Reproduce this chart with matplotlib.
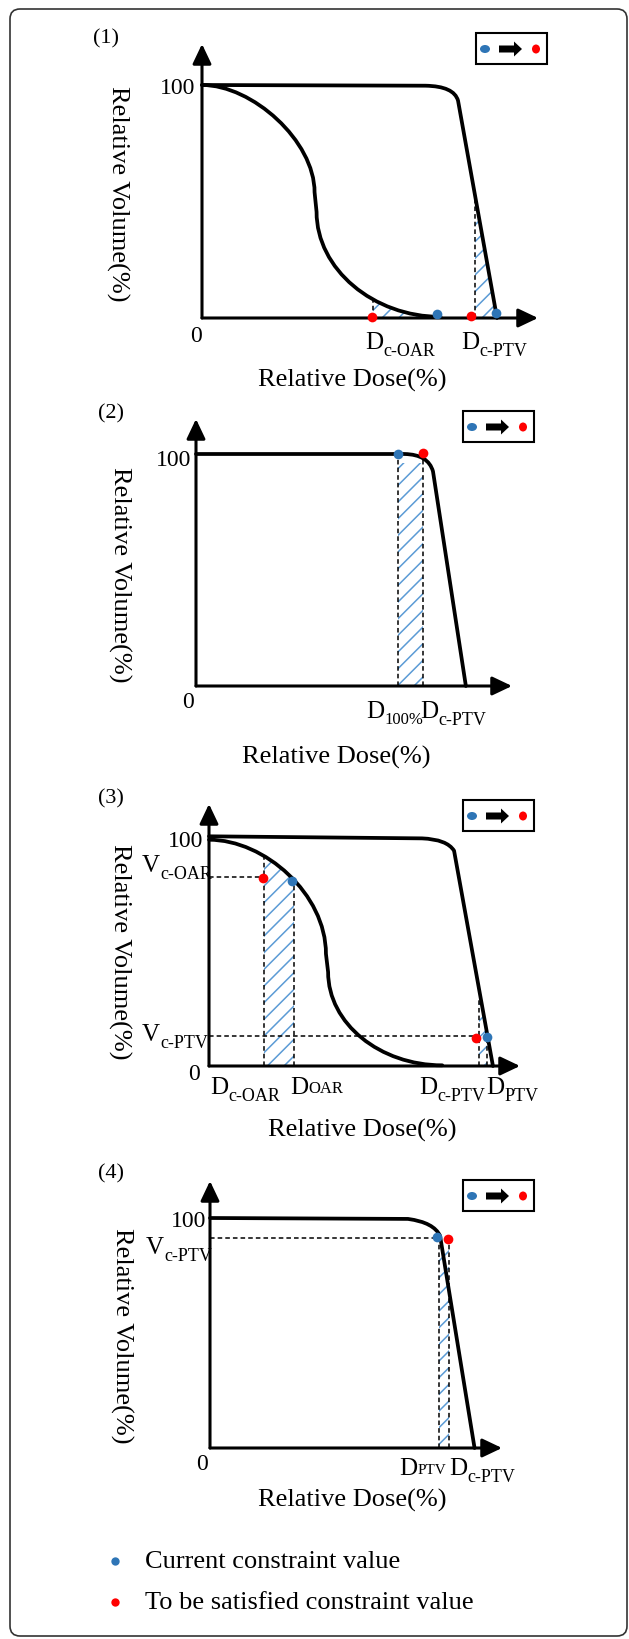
import matplotlib
matplotlib.use("Agg")
import matplotlib.pyplot as plt
from matplotlib.path import Path
from matplotlib.patches import PathPatch, Rectangle, FancyBboxPatch, FancyArrow, Ellipse

plt.rcParams["font.family"] = ["Liberation Serif", "DejaVu Serif"]
plt.rcParams["hatch.linewidth"] = 1.1

W, H = 629, 1640
BLUE = "#2e75b6"
RED = "#ff0000"
HATCH = "#5b9bd5"
M, L, C3, C4 = Path.MOVETO, Path.LINETO, Path.CURVE3, Path.CURVE4

# ---------------- data: (relative dose %, relative volume %) ----------------
# panel (1)
p1_ptv_dose = [0, 66.5, 75.0, 76.2, 87.8]
p1_ptv_vol = [100, 99.7, 99.5, 93.3, 0]
p1_ptv_code = [M, L, C3, C3, L]
p1_oar_dose = [0, 15, 33.5, 33.5, 34.1, 34.1, 51, 71]
p1_oar_vol = [100, 100, 76, 54, 45.5, 21, 0.5, 0.5]
p1_oar_code = [M, C4, C4, C4, L, C4, C4, C4]
p1_cur_dose = [69.9, 87.5]
p1_cur_vol = [1.7, 2.1]
p1_tgt_dose = [50.5, 80.2]
p1_tgt_vol = [0.3, 0.9]
p1_vguide_x = [50.9, 81.2]
p1_vguide_top = [9, 52]

# panel (2)
p2_ptv_dose = [0, 66.0, 73.5, 75.0, 85.4]
p2_ptv_vol = [100, 100, 99.8, 92.5, 0]
p2_ptv_code = [M, L, C3, C3, L]
p2_cur_dose = [64.0]
p2_cur_vol = [100]
p2_tgt_dose = [71.9]
p2_tgt_vol = [100.4]
p2_vguide_x = [64.0, 71.7]
p2_vguide_top = [98, 98]

# panel (3)
p3_ptv_dose = [0, 68.5, 76.5, 78.8, 91.3]
p3_ptv_vol = [100.3, 99.4, 99.0, 94.0, 0]
p3_ptv_code = [M, L, C3, C3, L]
p3_oar_dose = [0, 18, 37.6, 37.6, 38.3, 38.3, 55, 75]
p3_oar_vol = [98.8, 98.8, 75, 49, 41, 18.5, 0.3, 0.3]
p3_oar_code = [M, C4, C4, C4, L, C4, C4, C4]
p3_cur_dose = [26.7, 89.4]
p3_cur_vol = [80.8, 12.7]
p3_tgt_dose = [17.4, 85.9]
p3_tgt_vol = [82.1, 12.2]
p3_hguide_y = [82.5, 13.1]
p3_hguide_end = [17.4, 85.9]
p3_vguide_x = [17.7, 27.3, 86.8, 89.4]
p3_vguide_top = [91.3, 80.8, 29.3, 12.7]

# panel (4)
p4_ptv_dose = [0, 67.8, 76.7, 78.8, 90.6]
p4_ptv_vol = [100, 99.6, 98.1, 92.2, 0]
p4_ptv_code = [M, L, C3, C3, L]
p4_cur_dose = [77.7]
p4_cur_vol = [91.7]
p4_tgt_dose = [81.5]
p4_tgt_vol = [90.9]
p4_hguide_y = [91.3]
p4_hguide_end = [77.7]
p4_vguide_x = [78.4, 81.8]
p4_vguide_top = [90, 90]

legend_labels = ["Current constraint value", "To be satisfied constraint value"]

fig = plt.figure(figsize=(W / 100, H / 100), dpi=100)

# overlay in pixel units for frame, labels and legend keys
ov = fig.add_axes([0, 0, 1, 1])
ov.set_xlim(0, W)
ov.set_ylim(H, 0)
ov.axis("off")
ov.add_patch(FancyBboxPatch((10, 10), 617, 1627, boxstyle="round,pad=0,rounding_size=10",
                            fc="none", ec="#333333", lw=1.2))


def panel_axes(left, right, bottom, top, level):
    ax = fig.add_axes([left / W, 1 - bottom / H, (right - left) / W, (bottom - top) / H])
    ax.set_xlim(0, 100)
    ax.set_ylim(0, 100 * (bottom - top) / (bottom - level))
    ax.axis("off")
    ax.patch.set_alpha(0)
    ymax = ax.get_ylim()[1]
    ap = dict(arrowstyle="-|>,head_length=0.8,head_width=0.38", lw=2.2, color="k",
              shrinkA=0, shrinkB=0, mutation_scale=15)
    ax.annotate("", xy=(100, 0), xytext=(0, 0), arrowprops=ap, annotation_clip=False)
    ax.annotate("", xy=(0, ymax), xytext=(0, 0), arrowprops=ap, annotation_clip=False)
    return ax


def curve(ax, dose, vol, codes, hatch_from=None, hatch_to=None):
    verts = list(zip(dose, vol))
    ax.add_patch(PathPatch(Path(verts, codes), fc="none", ec="k", lw=2.7,
                           capstyle="round", joinstyle="round", zorder=3, clip_on=False))
    if hatch_from is not None:
        area = Path(verts + [(dose[-1], 0), (0, 0), (0, 0)], codes + [L, L, Path.CLOSEPOLY])
        hp = PathPatch(area, fc="none", ec=HATCH, lw=0, hatch="//", zorder=1)
        ax.add_patch(hp)
        hp.set_clip_path(Rectangle((hatch_from, 0), hatch_to - hatch_from, 200,
                                   transform=ax.transData))


def hatch_rect(ax, x0, x1, top):
    ax.add_patch(Rectangle((x0, 0), x1 - x0, top, fc="none", ec=HATCH, lw=0,
                           hatch="//", zorder=1))


def guides(ax, vx, vtop, hy=(), hend=()):
    for x, t in zip(vx, vtop):
        ax.plot([x, x], [0, t], color="k", lw=1.1, ls=(0, (3, 2)), zorder=2)
    for y, e in zip(hy, hend):
        ax.plot([0, e], [y, y], color="k", lw=1.1, ls=(0, (3, 2)), zorder=2)


def dots(ax, cd, cv, td, tv):
    ax.plot(cd, cv, "o", color=BLUE, ms=7, mew=0, zorder=5, clip_on=False)
    ax.plot(td, tv, "o", color=RED, ms=7, mew=0, zorder=5, clip_on=False)


def sub_label(x, y, main, sub, low=True, fs=18, sfs=13):
    t = ov.text(x, y, main, fontsize=fs, ha="left", va="center")
    if low:
        ov.annotate(sub, xy=(1, 0), xycoords=t, xytext=(0, 2), textcoords="offset points",
                    fontsize=sfs, ha="left", va="center")
    else:
        ov.annotate(sub, xy=(1, 0), xycoords=t, xytext=(0, 4), textcoords="offset points",
                    fontsize=sfs, ha="left", va="baseline")


def key_box(x, y):
    ov.add_patch(Rectangle((x, y), 71, 31, fc="none", ec="k", lw=1.5))
    ov.add_patch(Ellipse((x + 9, y + 16), 10, 8, color=BLUE, lw=0))
    ov.add_patch(FancyArrow(x + 23, y + 16, 23, 0, width=7, head_width=15, head_length=8,
                            length_includes_head=True, color="k", lw=0))
    ov.add_patch(Ellipse((x + 60, y + 16), 8, 9, color=RED, lw=0))


def common_text(num, nxy, lab100, lab0, dose_xy, vol_xy):
    ov.text(*nxy, num, fontsize=16, ha="center", va="center")
    ov.text(*lab100, "100", fontsize=17, ha="right", va="center")
    ov.text(*lab0, "0", fontsize=17, ha="center", va="center")
    ov.text(*dose_xy, "Relative Dose(%)", fontsize=19, ha="center", va="center")
    ov.text(*vol_xy, "Relative Volume(%)", fontsize=19, ha="center", va="center", rotation=-90)


# ---- panel (1)
ax1 = panel_axes(202, 538, 319, 45, 86)
curve(ax1, p1_ptv_dose, p1_ptv_vol, p1_ptv_code, p1_vguide_x[1], 95)
curve(ax1, p1_oar_dose, p1_oar_vol, p1_oar_code, p1_vguide_x[0], 75)
guides(ax1, p1_vguide_x, p1_vguide_top)
dots(ax1, p1_cur_dose, p1_cur_vol, p1_tgt_dose, p1_tgt_vol)
common_text("(1)", (106, 39), (195, 89), (196, 337), (352, 380), (118, 194))
sub_label(365, 343, "D", "c-OAR")
sub_label(461, 343, "D", "c-PTV")
key_box(476, 34)

# ---- panel (2)
ax2 = panel_axes(196, 512, 687, 420, 455)
curve(ax2, p2_ptv_dose, p2_ptv_vol, p2_ptv_code)
hatch_rect(ax2, p2_vguide_x[0], p2_vguide_x[1], 96)
guides(ax2, p2_vguide_x, p2_vguide_top)
dots(ax2, p2_cur_dose, p2_cur_vol, p2_tgt_dose, p2_tgt_vol)
common_text("(2)", (111, 414), (191, 460), (188, 703), (336, 757), (120, 575))
sub_label(366, 712, "D", "100%", sfs=12)
sub_label(420, 712, "D", "c-PTV")
key_box(463, 412)

# ---- panel (3)
ax3 = panel_axes(209, 520, 1067, 805, 838)
curve(ax3, p3_ptv_dose, p3_ptv_vol, p3_ptv_code, p3_vguide_x[2], p3_vguide_x[3])
curve(ax3, p3_oar_dose, p3_oar_vol, p3_oar_code, p3_vguide_x[0], p3_vguide_x[1])
guides(ax3, p3_vguide_x, p3_vguide_top, p3_hguide_y, p3_hguide_end)
dots(ax3, p3_cur_dose, p3_cur_vol, p3_tgt_dose, p3_tgt_vol)
common_text("(3)", (111, 799), (203, 842), (194, 1075), (362, 1130), (120, 952))
sub_label(142, 866, "V", "c-OAR")
sub_label(142, 1035, "V", "c-PTV")
sub_label(210, 1088, "D", "c-OAR")
sub_label(290, 1088, "D", "OAR", low=False, sfs=12)
sub_label(419, 1088, "D", "c-PTV")
sub_label(486, 1088, "D", "PTV")
key_box(463, 801)

# ---- panel (4)
ax4 = panel_axes(210, 502, 1449, 1182, 1219)
curve(ax4, p4_ptv_dose, p4_ptv_vol, p4_ptv_code)
hatch_rect(ax4, p4_vguide_x[0], p4_vguide_x[1], 86)
guides(ax4, p4_vguide_x, p4_vguide_top, p4_hguide_y, p4_hguide_end)
dots(ax4, p4_cur_dose, p4_cur_vol, p4_tgt_dose, p4_tgt_vol)
common_text("(4)", (111, 1174), (206, 1222), (202, 1465), (352, 1500), (122, 1336))
sub_label(146, 1248, "V", "c-PTV")
sub_label(399, 1469, "D", "PTV", low=False, sfs=11)
sub_label(449, 1469, "D", "c-PTV")
key_box(463, 1181)

# ---- bottom legend
for i, (lab, col) in enumerate(zip(legend_labels, [BLUE, RED])):
    yy = 1562 + 41 * i
    ov.plot([115], [yy], "o", color=col, ms=6, mew=0)
    ov.text(145, yy, lab, fontsize=19, ha="left", va="center")

fig.savefig("out.png", dpi=100)
